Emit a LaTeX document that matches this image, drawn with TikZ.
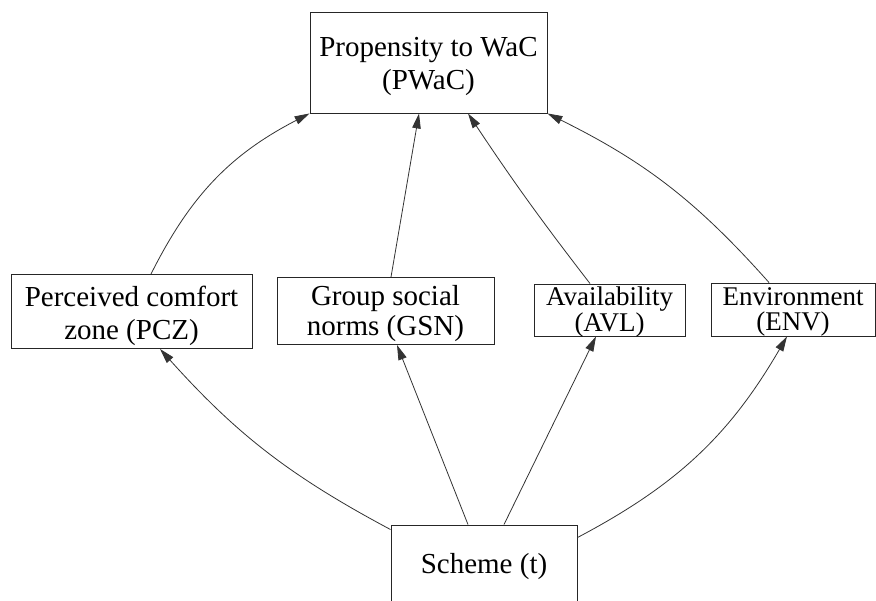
\documentclass[tikz,border=0pt]{standalone}
\usepackage{fontspec}
\setmainfont{Liberation Serif}
\usetikzlibrary{arrows.meta}
% two centred lines, lowered inside the node without changing its extent
\newcommand\twolines[3]{\raisebox{-#1}[\height][\depth]{%
  \begin{tabular}{@{}c@{}}#2\\#3\end{tabular}}}
\tikzset{
  box/.style={draw=black!85, line width=0.9pt, inner sep=0pt, align=center,
    font=\fontsize{29}{33}\selectfont},
  tightbox/.style={box, font=\fontsize{27}{23.5}\selectfont},
  link/.style={draw=black!80, line width=0.8pt,
    -{Triangle[length=15pt,width=8.5pt]}},
}
\begin{document}
\begin{tikzpicture}[x=1pt,y=-1pt]
  \useasboundingbox (0,0) rectangle (876,601);
  % factor boxes
  \node[box, minimum width=237pt, minimum height=101pt] (pwac) at (428.5,62.5)
    {\twolines{4pt}{Propensity to WaC}{(PWaC)}};
  \node[box, minimum width=241pt, minimum height=74pt] (pcz) at (131.5,311.5)
    {\twolines{5pt}{Perceived comfort}{zone (PCZ)}};
  \node[box, minimum width=217pt, minimum height=67pt, font=\fontsize{29}{30}\selectfont]
    (gsn) at (385.5,311)
    {\twolines{4pt}{Group social}{norms (GSN)}};
  \node[tightbox, minimum width=151pt, minimum height=52pt] (avl) at (609.5,310)
    {\twolines{3pt}{Availability}{(AVL)}};
  \node[tightbox, minimum width=164pt, minimum height=53pt] (env) at (793,309.5)
    {\twolines{3pt}{Environment}{(ENV)}};
  \node[box, minimum width=186pt, minimum height=84pt] (sch) at (484,567)
    {Scheme (t)};
  % upper layer of links
  \draw[link] ([xshift=19.5pt]pcz.north) to[bend left=18] (pwac.south west);
  \draw[link] ([xshift=5.5pt]gsn.north) -- ([xshift=-9.5pt]pwac.south);
  \draw[link] ([xshift=-19.5pt]avl.north) to[bend left=2] ([xshift=39.5pt]pwac.south);
  \draw[link] ([xshift=-24pt]env.north) to[bend right=11] (pwac.south east);
  % lower layer of links
  \draw[link] ([yshift=-5pt]sch.north west) to[bend left=10] ([xshift=28.5pt]pcz.south);
  \draw[link] ([xshift=-16pt]sch.north) -- ([xshift=11.5pt]gsn.south);
  \draw[link] ([xshift=20pt]sch.north) -- ([xshift=-13.5pt]avl.south);
  \draw[link] ([yshift=-13pt]sch.north east) to[bend right=16] ([xshift=-6pt]env.south);
\end{tikzpicture}
\end{document}
